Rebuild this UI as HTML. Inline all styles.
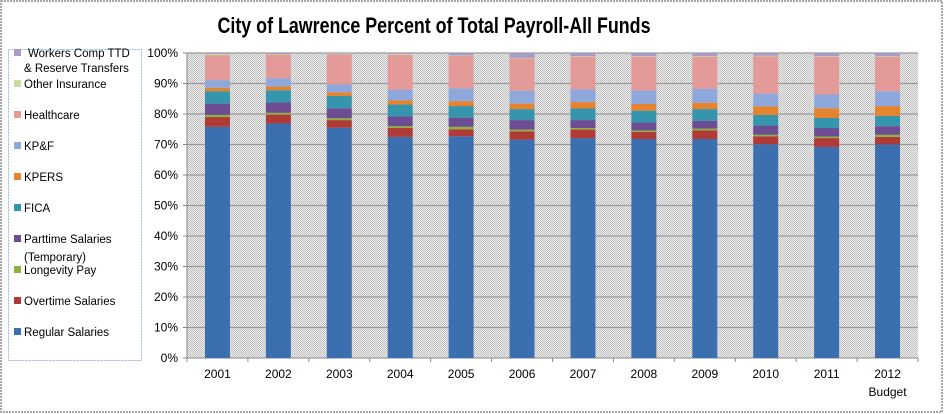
<!DOCTYPE html>
<html><head><meta charset="utf-8"><style>
html,body{margin:0;padding:0;background:#fff;}
svg{display:block;font-family:"Liberation Sans",sans-serif;}
</style></head><body>
<svg id="s" width="944" height="414" xmlns="http://www.w3.org/2000/svg">
<defs>
<pattern id="hatch" width="2" height="2" patternUnits="userSpaceOnUse">
<rect width="2" height="2" fill="#f0f0f0"/><rect width="1" height="1" fill="#bdbdbd"/><rect x="1" y="1" width="1" height="1" fill="#bdbdbd"/>
</pattern>
</defs>
<rect x="1" y="1" width="941" height="411" fill="#fff" stroke="#8a8a8a" stroke-width="1.5" stroke-dasharray="2,1"/>
<text x="434" y="33" font-size="22" font-weight="bold" text-anchor="middle" textLength="433" lengthAdjust="spacingAndGlyphs">City of Lawrence Percent of Total Payroll-All Funds</text>
<rect x="187" y="53" width="731" height="305" fill="url(#hatch)"/>
<g id="grid"></g>
<g id="bars"></g>
<g id="labels" font-size="12" fill="#000"></g>
<rect x="8.5" y="49.5" width="133" height="311" fill="#fff" stroke="#9bb7e0" stroke-width="1" stroke-dasharray="2,1"/>
<g id="legend" font-size="11.5"></g>
</svg>
<script>
const s=document.getElementById('s');
const NS='http://www.w3.org/2000/svg';
function el(p,t,a,txt){const e=document.createElementNS(NS,t);for(const k in a)e.setAttribute(k,a[k]);if(txt!=null)e.textContent=txt;document.getElementById(p).appendChild(e);return e;}
const y0=358,h=305,L=187,R=918,cw=(R-L)/12;
const Y=p=>y0-p*h/100;
for(let i=0;i<=10;i++){const y=Y(i*10);
 if(i>0)el('grid','line',{x1:L,x2:R,y1:y,y2:y,stroke:'#9a9a9a','stroke-width':1.3});
 el('grid','line',{x1:L-4,x2:L,y1:y,y2:y,stroke:'#888'});
 el('labels','text',{x:178,y:y+4,'text-anchor':'end'},i*10+'%');}
el('grid','line',{x1:L,x2:L,y1:53,y2:y0,stroke:'#888'});
el('grid','line',{x1:L,x2:R,y1:y0,y2:y0,stroke:'#888'});
for(let i=0;i<=12;i++)el('grid','line',{x1:L+i*cw,x2:L+i*cw,y1:y0,y2:y0+4,stroke:'#888'});
const cols=['#3b6fb0','#b03a36','#8db33f','#6c4c92','#3595ac','#e6832f','#8fa8dc','#e39a99','#c7dca1','#a79cc7'];
const d=[
[75.8,79.0,79.7,83.4,87.5,88.6,91.1,99.3,99.7,100],
[76.9,79.8,80.4,83.8,87.8,89.0,91.7,99.5,99.7,100],
[75.5,78.0,78.6,81.9,85.9,87.1,89.7,99.6,99.8,100],
[72.5,75.4,76.0,79.2,83.1,84.5,88.0,99.4,99.7,100],
[72.7,75.0,75.8,78.8,82.6,84.2,88.4,99.0,99.2,100],
[71.6,74.3,74.9,78.0,81.6,83.4,87.6,98.2,98.4,100],
[72.1,74.9,75.4,78.0,81.8,83.9,88.1,98.8,99.0,100],
[71.8,74.1,74.6,77.2,81.1,83.3,87.7,98.8,99.0,100],
[71.8,74.6,75.2,77.8,81.6,83.7,88.3,98.8,99.0,100],
[70.1,72.7,73.2,76.2,79.7,82.5,86.7,98.9,99.1,100],
[69.2,72.1,72.6,75.4,78.7,81.9,86.4,98.8,99.0,100],
[70.0,72.5,73.2,76.0,79.4,82.6,87.5,98.8,99.0,100]];
d.forEach((b,i)=>{const cx=L+(i+0.5)*cw,x=cx-12.5;let prev=0;
 b.forEach((v,j)=>{el('bars','rect',{x:x,y:Y(v),width:25,height:Y(prev)-Y(v),fill:cols[j]});prev=v;});
 el('labels','text',{x:cx,y:378,'text-anchor':'middle'},i==11?'2012':String(2001+i));
});
el('labels','text',{x:L+11.5*cw,y:396,'text-anchor':'middle'},'Budget');
const leg=[['Workers Comp TTD',9,57],['Other Insurance',8,88],['Healthcare',7,119],['KP&F',6,150],['KPERS',5,181],['FICA',4,212],['Parttime Salaries',3,243],['Longevity Pay',2,274],['Overtime Salaries',1,305],['Regular Salaries',0,336]];
leg.forEach(([t,c,y])=>{el('legend','rect',{x:14,y:y-8,width:7,height:7,fill:cols[c]});
 el('legend','text',{x:c==9?28:24,y:y},t);});
el('legend','text',{x:24,y:72},'& Reserve Transfers');
el('legend','text',{x:24,y:261},'(Temporary)');
</script>
</body></html>
